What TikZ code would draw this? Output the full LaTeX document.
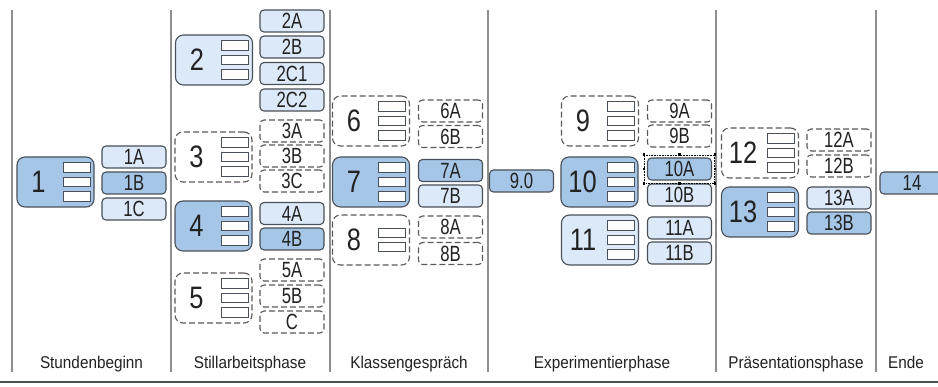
\documentclass[tikz,border=0pt]{standalone}
\usepackage{fontspec}
\usepackage{graphicx}
\setmainfont{Liberation Sans}
\usetikzlibrary{fit}
\definecolor{bd}{HTML}{4A5058}
\definecolor{cdark}{HTML}{A6C6E8}
\definecolor{clight}{HTML}{DCE9F8}
\definecolor{gl}{HTML}{8E8E8E}
\definecolor{tx}{HTML}{222222}
\definecolor{dsh}{HTML}{5A5A5A}
\tikzset{
 bigbox/.style={rounded corners=8pt, minimum width=77pt, minimum height=50pt, inner sep=0pt, line width=1.1pt, draw=bd},
 subbox/.style={rounded corners=4pt, minimum width=64pt, minimum height=22pt, inner sep=0pt, line width=1.1pt, draw=bd, font=\fontsize{22}{22}\selectfont, text=tx},
 fdark/.style={fill=cdark},
 flight/.style={fill=clight},
 fdash/.style={draw=dsh, dash pattern=on 6pt off 3pt, fill=white},
 slot/.style={draw=bd, fill=white, line width=0.9pt, minimum width=27pt, minimum height=9.5pt, inner sep=0pt},
 numtxt/.style={font=\fontsize{31}{31}\selectfont, text=tx, inner sep=0pt},
 phase/.style={font=\fontsize{17}{18}\selectfont, text=tx, anchor=base, inner sep=0pt},
 sepline/.style={draw=gl, line width=1.4pt},
 handle/.style={fill=black, minimum size=2.6pt, inner sep=0pt},
}
\newcommand{\BB}[5]{%
 \node[bigbox,#5] (#1) at (#2,#3) {};
 \node[numtxt] (#1n) at ([xshift=-17pt]#1.center) {\scalebox{0.82}[1]{#4}};
 \node[slot] (#1a) at ([xshift=21pt,yshift=14.5pt]#1.center) {};
 \node[slot] (#1b) at ([xshift=21pt]#1.center) {};
 \node[slot] (#1c) at ([xshift=21pt,yshift=-14.5pt]#1.center) {};
}
\newcommand{\BBtwo}[5]{%
 \node[bigbox,#5] (#1) at (#2,#3) {};
 \node[numtxt] (#1n) at ([xshift=-17pt]#1.center) {\scalebox{0.82}[1]{#4}};
 \node[slot] (#1a) at ([xshift=21pt,yshift=7pt]#1.center) {};
 \node[slot] (#1b) at ([xshift=21pt,yshift=-7pt]#1.center) {};
}
\newcommand{\SB}[5]{\node[subbox,#1] (#2) at (#3,#4) {\scalebox{0.76}[1]{#5}};}
\newcommand{\PL}[4]{\node[phase] (#1) at (#2,#3) {\scalebox{0.9}[1]{#4}};}
\begin{document}
\begin{tikzpicture}[x=1pt,y=-1pt]
\clip (0,0) rectangle (938,387);
\fill[white] (0,0) rectangle (938,387);
% separators
\coordinate (t0) at (12,10);   \coordinate (u0) at (12,372);
\coordinate (t1) at (171,10);  \coordinate (u1) at (171,372);
\coordinate (t2) at (330,10);  \coordinate (u2) at (330,372);
\coordinate (t3) at (488,10);  \coordinate (u3) at (488,372);
\coordinate (t4) at (716,10);  \coordinate (u4) at (716,372);
\coordinate (t5) at (876,10);  \coordinate (u5) at (876,372);
\foreach \i in {0,...,5} \draw[sepline] (t\i) -- (u\i);
\coordinate (rl) at (0,382); \coordinate (rr) at (938,382);
\draw[draw=bd, line width=1.6pt] (rl) -- (rr);

% phase 1
\BB{b1}{55.5}{182}{1}{fdark}
\SB{flight}{s1A}{134}{157}{1A}
\SB{fdark}{s1B}{134}{183}{1B}
\SB{flight}{s1C}{134}{209}{1C}

% phase 2
\BB{b2}{214}{60}{2}{flight}
\SB{flight}{s2A}{292}{21}{2A}
\SB{flight}{s2B}{292}{47}{2B}
\SB{flight}{s2C1}{292}{73.5}{2C1}
\SB{flight}{s2C2}{292}{100}{2C2}
\BB{b3}{213.5}{157}{3}{fdash}
\SB{fdash}{s3A}{292}{131}{3A}
\SB{fdash}{s3B}{292}{156}{3B}
\SB{fdash}{s3C}{292}{181}{3C}
\BB{b4}{213.5}{226}{4}{fdark}
\SB{flight}{s4A}{292}{213.5}{4A}
\SB{fdark}{s4B}{292}{239}{4B}
\BB{b5}{213.5}{298}{5}{fdash}
\SB{fdash}{s5A}{292}{270}{5A}
\SB{fdash}{s5B}{292}{296}{5B}
\SB{fdash}{s5C}{292}{322}{C}

% phase 3
\BB{b6}{371}{121}{6}{fdash}
\SB{fdash}{s6A}{450.5}{111}{6A}
\SB{fdash}{s6B}{450.5}{136.5}{6B}
\BB{b7}{371}{182}{7}{fdark}
\SB{fdark}{s7A}{450.5}{170.5}{7A}
\SB{flight}{s7B}{450.5}{196}{7B}
\BBtwo{b8}{371}{240}{8}{fdash}
\SB{fdash}{s8A}{450.5}{227}{8A}
\SB{fdash}{s8B}{450.5}{253.5}{8B}

% phase 4
\SB{fdark}{s90}{521.5}{181}{9.0}
\BB{b9}{600}{121}{9}{fdash}
\SB{fdash}{s9A}{679.5}{111}{9A}
\SB{fdash}{s9B}{679.5}{136}{9B}
\BB{b10}{599.5}{182}{10}{fdark}
\SB{fdark}{s10A}{679.5}{169}{10A}
\SB{flight}{s10B}{679.5}{195}{10B}
\node[draw=black, densely dotted, line width=0.6pt, inner sep=2.5pt, fit=(s10A)] (sel) {};
\foreach \a in {north west,north,north east,east,south east,south,south west,west}
  \node[handle] at (sel.\a) {};
\BB{b11}{600}{240}{11}{flight}
\SB{flight}{s11A}{679.5}{228}{11A}
\SB{flight}{s11B}{679.5}{253}{11B}

% phase 5
\BB{b12}{760}{153}{12}{fdash}
\SB{fdash}{s12A}{839}{140}{12A}
\SB{fdash}{s12B}{839}{166}{12B}
\BB{b13}{760}{212}{13}{fdark}
\SB{flight}{s13A}{839}{198}{13A}
\SB{fdark}{s13B}{839}{223}{13B}

% phase 6
\SB{fdark}{s14}{912}{183}{14}

% phase labels
\PL{p1}{91.5}{369}{Stundenbeginn}
\PL{p2}{250}{369}{Stillarbeitsphase}
\PL{p3}{409}{369}{Klassengespräch}
\PL{p4}{602}{369}{Experimentierphase}
\PL{p5}{796}{369}{Präsentationsphase}
\PL{p6}{906}{369}{Ende}
\end{tikzpicture}
\end{document}
